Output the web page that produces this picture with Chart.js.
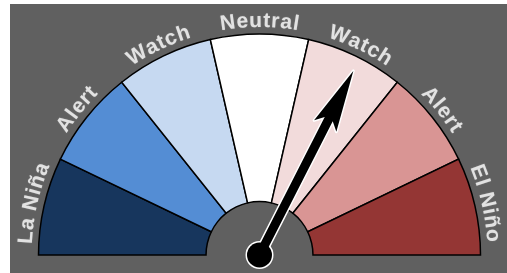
<!DOCTYPE html>
<html><head><meta charset="utf-8">
<script src="https://cdn.jsdelivr.net/npm/chart.js@4"></script>
<style>
html,body{margin:0;padding:0;background:#fff;overflow:hidden;}
#wrap{position:absolute;left:0;top:0;width:507px;height:273px;}
</style></head><body>
<div id="wrap"><canvas id="c" width="507" height="273"></canvas></div>
<script>
const categories = ['La Niña', 'Alert', 'Watch', 'Neutral', 'Watch', 'Alert', 'El Niño'];
const segmentValues = [1, 1, 1, 1, 1, 1, 1];
const segmentColors = ['#17365D', '#548DD4', '#C6D9F1', '#FFFFFF', '#F2DBDB', '#D99594', '#943634'];
const needleValue = [4.55];

const bgPlugin = {
  id: 'bg',
  beforeDraw(chart) {
    const ctx = chart.ctx;
    ctx.save();
    ctx.fillStyle = '#606060';
    ctx.fillRect(10, 4, chart.width - 10, chart.height - 4);
    ctx.restore();
  }
};

const labelPlugin = {
  id: 'arcLabels',
  afterDatasetsDraw(chart) {
    const ctx = chart.ctx;
    const arcs = chart.getDatasetMeta(0).data;
    ctx.save();
    ctx.font = 'bold 21px "Liberation Sans", Arial, sans-serif';
    ctx.fillStyle = '#e2e2e2';
    ctx.textAlign = 'center';
    ctx.textBaseline = 'alphabetic';
    ctx.shadowColor = 'rgba(255,255,255,0.25)';
    ctx.shadowBlur = 1.5;
    const spacing = 0.8;
    arcs.forEach((arc, i) => {
      const p = arc.getProps(['x', 'y', 'startAngle', 'endAngle', 'outerRadius']);
      const r = p.outerRadius + 7;
      const mid = (p.startAngle + p.endAngle) / 2;
      const chars = Array.from(chart.data.labels[i]);
      const widths = chars.map(c => ctx.measureText(c).width);
      const total = widths.reduce((a, b) => a + b, 0) + spacing * (chars.length - 1);
      let cur = mid - total / (2 * r);
      chars.forEach((c, k) => {
        const a = cur + widths[k] / (2 * r);
        ctx.save();
        ctx.translate(p.x + r * Math.cos(a), p.y + r * Math.sin(a));
        ctx.rotate(a + Math.PI / 2);
        ctx.fillText(c, 0, 0);
        ctx.restore();
        cur += (widths[k] + spacing) / r;
      });
    });
    ctx.restore();
  }
};

const needlePlugin = {
  id: 'needle',
  afterDatasetsDraw(chart) {
    const ctx = chart.ctx;
    const arcs = chart.getDatasetMeta(0).data;
    const v = needleValue[0];
    const idx = Math.min(Math.floor(v), arcs.length - 1);
    const p = arcs[idx].getProps(['x', 'y', 'startAngle', 'endAngle', 'outerRadius']);
    const ang = p.startAngle + (v - idx) * (p.endAngle - p.startAngle);
    const R = p.outerRadius;
    const ux = Math.cos(ang), uy = Math.sin(ang);
    const nx = -uy, ny = ux;
    const pt = (d, w) => [p.x + ux * d + nx * w, p.y + uy * d + ny * w];
    const tip = pt(R * 0.935, 0);
    const wingL = pt(R * 0.655, -12.5);
    const wingR = pt(R * 0.655, 12.5);
    const backL = pt(R * 0.69, -4.5);
    const backR = pt(R * 0.69, 4.5);
    const baseL = pt(0, -4.5);
    const baseR = pt(0, 4.5);
    const shape = () => {
      ctx.beginPath();
      ctx.moveTo(...baseL);
      ctx.lineTo(...backL);
      ctx.lineTo(...wingL);
      ctx.lineTo(...tip);
      ctx.lineTo(...wingR);
      ctx.lineTo(...backR);
      ctx.lineTo(...baseR);
      ctx.closePath();
    };
    const circle = () => {
      ctx.beginPath();
      ctx.arc(p.x, p.y, 12.5, 0, Math.PI * 2);
    };
    ctx.save();
    ctx.lineJoin = 'round';
    ctx.strokeStyle = '#ffffff';
    ctx.lineWidth = 3;
    shape(); ctx.stroke();
    circle(); ctx.stroke();
    ctx.fillStyle = '#000000';
    shape(); ctx.fill();
    circle(); ctx.fill();
    ctx.restore();
  }
};

new Chart(document.getElementById('c'), {
  type: 'doughnut',
  data: {
    labels: categories,
    datasets: [{
      data: segmentValues,
      backgroundColor: segmentColors,
      borderColor: '#000000',
      borderWidth: 1.5,
      borderJoinStyle: 'miter'
    }]
  },
  options: {
    responsive: false,
    animation: false,
    devicePixelRatio: 1,
    rotation: -90,
    circumference: 180,
    cutout: '24.2%',
    layout: { padding: { left: 37.75, right: 25.75, top: 33.25, bottom: 17.25 } },
    plugins: { legend: { display: false }, tooltip: { enabled: false } },
    events: []
  },
  plugins: [bgPlugin, labelPlugin, needlePlugin]
});
</script>
</body></html>
